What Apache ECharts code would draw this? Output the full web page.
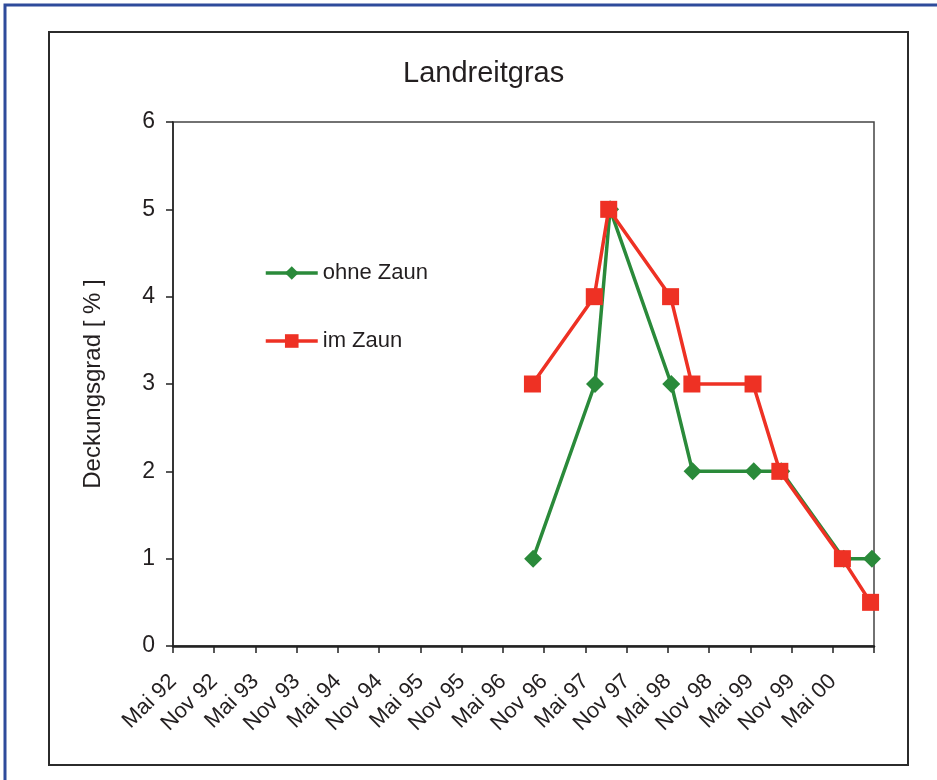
<!DOCTYPE html>
<html>
<head>
    <meta charset="utf-8">
    <script src="https://cdn.jsdelivr.net/npm/echarts@6/dist/echarts.min.js"></script>
    <style>
        body { margin: 0; background: #fff; }
    </style>
</head>
<body>
    <div id="chart" style="width: 937px;height:780px;"></div>
    <script type="text/javascript">
        // x values: months since Mai 92
        var tickLabels = ['Mai 92', 'Nov 92', 'Mai 93', 'Nov 93', 'Mai 94', 'Nov 94', 'Mai 95', 'Nov 95',
            'Mai 96', 'Nov 96', 'Mai 97', 'Nov 97', 'Mai 98', 'Nov 98', 'Mai 99', 'Nov 99', 'Mai 00', ''];
        var ohneX = [52.4, 61.4, 63.6, 72.5, 75.6, 84.5, 88.5, 97.6, 101.7];
        var ohneY = [1, 3, 5, 3, 2, 2, 2, 1, 1];
        var imX = [52.3, 61.3, 63.4, 72.4, 75.5, 84.4, 88.3, 97.4, 101.5];
        var imY = [3, 4, 5, 4, 3, 3, 2, 1, 0.5];

        var font = 'Liberation Sans, Arial, sans-serif';
        var txt = '#231f20';
        var green = '#2a8a3a', red = '#ee3124';

        function pairs(xs, ys) {
            var out = [];
            for (var i = 0; i < xs.length; i++) out.push([xs[i], ys[i]]);
            return out;
        }

        var myChart = echarts.init(document.getElementById('chart'));
        var option = {
            animation: false,
            backgroundColor: '#fff',
            title: {
                text: 'Landreitgras',
                left: 398, top: 54,
                textStyle: { fontFamily: font, fontSize: 29, fontWeight: 'normal', color: txt }
            },
            graphic: [
                { type: 'rect', shape: { x: 5, y: 5, width: 960, height: 800 },
                  style: { fill: 'none', stroke: '#2e4b9b', lineWidth: 3 }, z: -1 },
                { type: 'rect', shape: { x: 49, y: 32, width: 859, height: 733 },
                  style: { fill: 'none', stroke: '#2b2b2b', lineWidth: 2 }, z: -1 }
            ],
            legend: {
                orient: 'vertical',
                left: 259, top: 257,
                itemWidth: 52, itemHeight: 17, itemGap: 46,
                textStyle: { fontFamily: font, fontSize: 22, color: txt },
                data: [
                    { name: 'ohne Zaun', lineStyle: { width: 3.5 } },
                    { name: 'im Zaun', lineStyle: { width: 3.5 } }
                ]
            },
            grid: {
                left: 173, top: 122, right: 63, bottom: 134,
                show: true, borderColor: '#444', borderWidth: 1.5, backgroundColor: '#fff'
            },
            xAxis: {
                type: 'value', min: 0, max: 102, interval: 6,
                splitLine: { show: false },
                axisLine: { lineStyle: { color: '#222', width: 2.5 } },
                axisTick: { show: true, length: 7, lineStyle: { color: '#222', width: 1.5 } },
                axisLabel: {
                    rotate: 45, margin: 32, fontFamily: font, fontSize: 22, color: txt,
                    showMaxLabel: true,
                    formatter: function (v) { return tickLabels[Math.round(v / 6)] || ''; }
                }
            },
            yAxis: {
                type: 'value', min: 0, max: 6, interval: 1,
                name: 'Deckungsgrad [ % ]', nameLocation: 'middle', nameGap: 68,
                nameTextStyle: { fontFamily: font, fontSize: 24, color: txt },
                splitLine: { show: false },
                axisLine: { show: true, lineStyle: { color: '#222', width: 1.5 } },
                axisTick: { show: true, length: 7, lineStyle: { color: '#222', width: 1.5 } },
                axisLabel: { margin: 18, fontFamily: font, fontSize: 23, color: txt }
            },
            series: [
                {
                    name: 'ohne Zaun', type: 'line', data: pairs(ohneX, ohneY),
                    symbol: 'diamond', symbolSize: 18,
                    lineStyle: { color: green, width: 3.5 },
                    itemStyle: { color: green }
                },
                {
                    name: 'im Zaun', type: 'line', data: pairs(imX, imY),
                    symbol: 'rect', symbolSize: 17,
                    lineStyle: { color: red, width: 3.5 },
                    itemStyle: { color: red }
                }
            ]
        };
        myChart.setOption(option);
    </script>
</body>
</html>
